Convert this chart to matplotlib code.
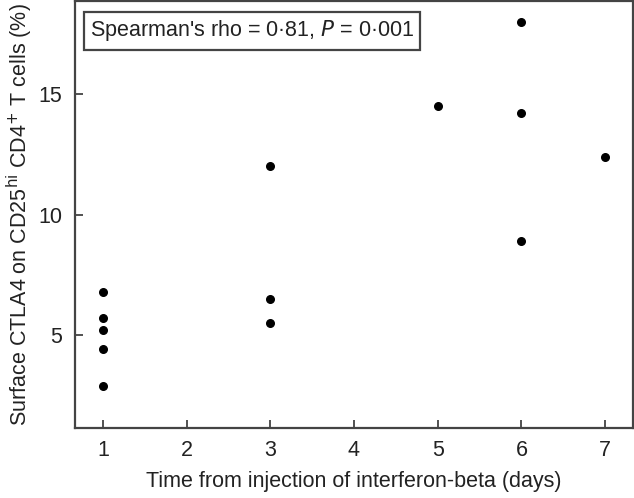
import matplotlib
matplotlib.use("Agg")
import matplotlib.pyplot as plt

plt.rcParams['font.family'] = ['Liberation Sans', 'DejaVu Sans']

days = [1, 1, 1, 1, 1, 3, 3, 3, 5, 6, 6, 6, 7]
ctla4 = [6.8, 5.7, 5.2, 4.4, 2.9, 12.0, 6.5, 5.5, 14.5, 18.0, 14.2, 8.9, 12.4]
xticks = [1, 2, 3, 4, 5, 6, 7]
yticks = [5, 10, 15]

fig = plt.figure(figsize=(6.34, 4.98), dpi=100)
ax = fig.add_axes([0.1183, 0.1406, 0.8801, 0.857])
ax.scatter(days, ctla4, s=30, color='black', zorder=3)
ax.set_xlim(0.667, 7.333)
ax.set_ylim(1.14, 18.86)
ax.set_xticks(xticks)
ax.set_yticks(yticks)
ax.tick_params(direction='in', length=6, width=1.2, colors='#333333', labelsize=15.5,
               labelcolor='#222222', pad=9)
for s in ax.spines.values():
    s.set_linewidth(1.6)
    s.set_color('#444444')
ax.set_xlabel('Time from injection of interferon-beta (days)', fontsize=15.5, color='#222222', labelpad=7)
ax.set_ylabel('Surface CTLA4 on CD25$^{\\mathrm{hi}}$ CD4$^{+}$ T cells (%)', fontsize=15.5,
              color='#222222', va='center')
ax.yaxis.set_label_coords(-0.099, 0.5)
ax.text(0.027, 0.96, "Spearman's rho = 0·81, $\\mathit{P}$ = 0·001", transform=ax.transAxes,
        fontsize=15.5, va='top', ha='left', color='#222222',
        bbox=dict(boxstyle='square,pad=0.3', fc='white', ec='#444444', lw=1.6))
fig.savefig('out.png', dpi=100)
